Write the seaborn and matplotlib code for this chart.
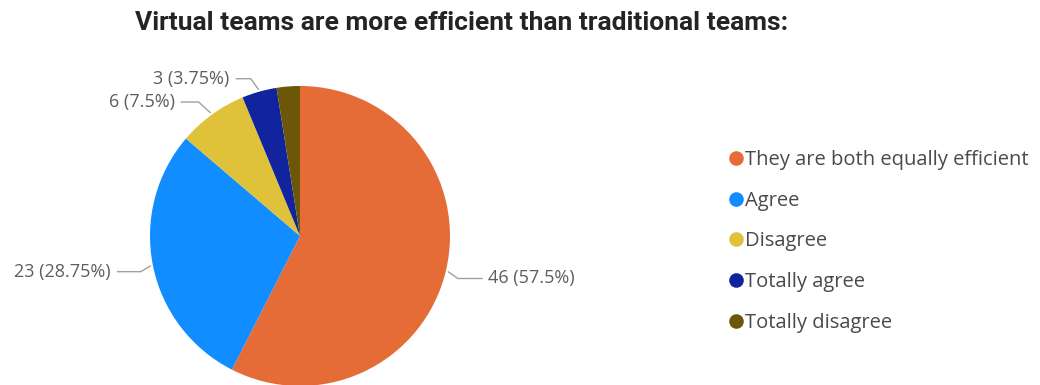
import numpy as np
import matplotlib
matplotlib.use("Agg")
import matplotlib.pyplot as plt
from matplotlib.lines import Line2D
import seaborn as sns

# Survey responses
categories = ["They are both equally efficient", "Agree", "Disagree",
              "Totally agree", "Totally disagree"]
counts = [46, 23, 6, 3, 2]
colors = ["#E66C37", "#118DFF", "#E0C23A", "#12239E", "#6B5707"]
title = "Virtual teams are more efficient than traditional teams:"

sns.set_theme(style="white")
plt.rcParams["font.family"] = ["Open Sans", "DejaVu Sans"]

W, H = 1040, 385
fig = plt.figure(figsize=(W / 100, H / 100), dpi=100)
ax = fig.add_axes([0, 0, 1, 1])

cx, cy, r = 300, H - 236, 150
wedges, _ = ax.pie(counts, colors=colors, startangle=90, counterclock=False,
                   center=(cx, cy), radius=r, frame=True,
                   wedgeprops=dict(linewidth=0))
ax.set_xlim(0, W)
ax.set_ylim(0, H)
ax.set_aspect("equal")
ax.axis("off")

total = sum(counts)
label_col = "#605E5C"
line_col = "#A0A0A0"

# leader-line layout per labelled wedge: (knee offset, end offset, side)
layout = {
    0: ((10, -7), (35, -7), "left"),
    1: ((-10, -6), (-34, -6), "right"),
    2: ((-12, 11), (-30, 11), "right"),
    3: ((-8, 11), (-23, 11), "right"),
}
for i, (k, e, side) in layout.items():
    w = wedges[i]
    mid = np.deg2rad((w.theta1 + w.theta2) / 2)
    ex = cx + (r + 2) * np.cos(mid)
    ey = cy + (r + 2) * np.sin(mid)
    kx, ky = ex + k[0], ey + k[1]
    tx, ty = ex + e[0], ey + e[1]
    ax.plot([ex, kx, tx], [ey, ky, ty], color=line_col, lw=1, solid_capstyle="butt")
    pct = counts[i] / total * 100
    txt = f"{counts[i]} ({pct:g}%)"
    if side == "left":
        ax.text(tx + 5, ty, txt, ha="left", va="center", fontsize=13, color=label_col)
    else:
        ax.text(tx - 6, ty, txt, ha="right", va="center", fontsize=13, color=label_col)

fig.text(462 / W, 1 - 23 / H, title, ha="center", va="center",
         fontsize=19, fontweight="bold", color="#252423",
         family=["Roboto", "DejaVu Sans"])

handles = [Line2D([], [], marker="o", linestyle="none", markersize=10.5,
                  markerfacecolor=c, markeredgewidth=0) for c in colors]
leg = fig.legend(handles, categories, loc="upper left",
                 bbox_to_anchor=(730 / W, 1 - 150 / H), frameon=False,
                 fontsize=14.5, handlelength=0.55, handletextpad=0.2,
                 labelspacing=1.03, borderpad=0, borderaxespad=0)
for t in leg.get_texts():
    t.set_color("#4A4A4A")

fig.savefig("out.png", dpi=100)
